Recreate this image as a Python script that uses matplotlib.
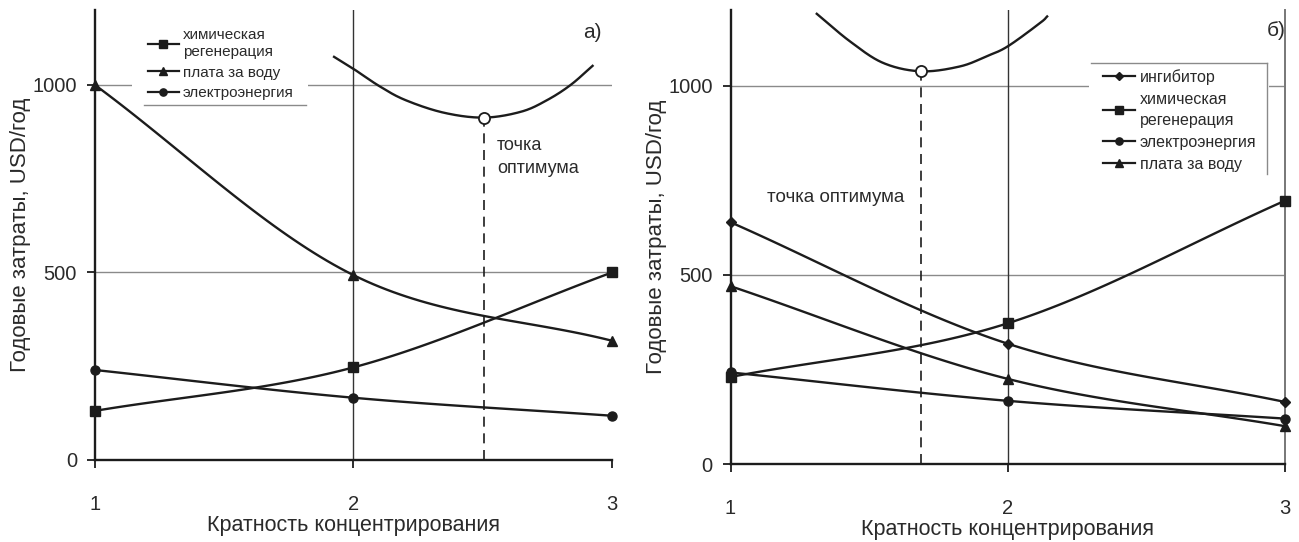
#!/usr/bin/env python3
"""Annual cost vs. concentration factor, two variants (a, б)."""

import matplotlib
matplotlib.use("Agg")
import matplotlib.pyplot as plt
import numpy as np
from matplotlib.lines import Line2D
from matplotlib.patches import Rectangle

plt.rcParams["font.family"] = ["Liberation Sans", "DejaVu Sans"]

INK = "#1c1c1c"
TXT = "#2a2a2a"
GRID = "#8a8a8a"

conc = [1, 2, 3]

# panel a)
a_chem = [131, 247, 500]
a_water = [1000, 493, 318]
a_power = [240, 166, 118]
a_total_x = [1.925, 2.0, 2.1, 2.2, 2.35, 2.505, 2.65, 2.75, 2.84, 2.925]
a_total_y = [1075, 1043, 997, 960, 926, 913, 929, 960, 1000, 1051]
a_opt = (2.505, 913)

# panel б)
b_inhib = [639, 318, 164]
b_chem = [230, 372, 696]
b_power = [242, 167, 120]
b_water = [470, 225, 100]
b_total_x = [1.311, 1.431, 1.551, 1.687, 1.828, 1.924, 2.0, 2.117, 2.142]
b_total_y = [1190, 1117, 1060, 1038, 1051, 1078, 1104, 1166, 1183]
b_opt = (1.687, 1038)

yticks = [0, 500, 1000]
ylabel = "Годовые затраты, USD/год"
xlabel = "Кратность концентрирования"


def smooth(x, y, n=40):
    # Catmull-Rom curve through the given points (Excel-like smoothed line)
    p = np.column_stack([x, y]).astype(float)
    p = np.vstack([2 * p[0] - p[1], p, 2 * p[-1] - p[-2]])
    t = np.linspace(0, 1, n)[:, None]
    out = []
    for i in range(1, len(p) - 2):
        p0, p1, p2, p3 = p[i - 1], p[i], p[i + 1], p[i + 2]
        seg = 0.5 * (2 * p1 + (-p0 + p2) * t
                     + (2 * p0 - 5 * p1 + 4 * p2 - p3) * t ** 2
                     + (-p0 + 3 * p1 - 3 * p2 + p3) * t ** 3)
        out.append(seg if i == 1 else seg[1:])
    pts = np.vstack(out)
    return pts[:, 0], pts[:, 1]


def series(ax, y, marker, ms, label):
    xs, ys = smooth(conc, y)
    ax.plot(xs, ys, color=INK, lw=1.7, zorder=4, clip_on=False)
    ax.plot(conc, y, ls="none", marker=marker, ms=ms, color=INK,
            zorder=5, clip_on=False)
    return Line2D([], [], color=INK, lw=1.6, marker=marker, ms=ms * 0.8, label=label)


def setup(ax):
    ax.set_xlim(1, 3)
    ax.set_ylim(0, 1200)
    ax.set_xticks(conc)
    ax.set_yticks(yticks)
    for s in ("top", "right"):
        ax.spines[s].set_visible(False)
    for s in ("left", "bottom"):
        ax.spines[s].set_linewidth(1.7)
        ax.spines[s].set_color(INK)
    ax.tick_params(direction="out", length=6, width=1.3, color=INK,
                   labelsize=14.5, labelcolor=TXT, pad=7)
    ax.tick_params(axis="x", pad=19)
    for v in (500, 1000):
        ax.axhline(v, color=GRID, lw=1.0, zorder=1)
    ax.axvline(2, color="#333333", lw=1.0, zorder=1)
    ax.set_xlabel(xlabel, fontsize=15.5, color=TXT, labelpad=1)
    ax.set_ylabel(ylabel, fontsize=16, color=TXT, labelpad=1)


def optimum(ax, tx, ty, total_x, total_y):
    xs, ys = smooth(total_x, total_y)
    ax.plot(xs, ys, color=INK, lw=1.7, zorder=4)
    ax.plot([tx, tx], [0, ty], color=INK, lw=1.2, ls=(0, (6, 4)), zorder=3)
    ax.plot([tx], [ty], marker="o", ms=8, mfc="white", mec=INK, mew=1.3,
            zorder=6)


def legend(ax, handles, anchor, size, linespacing):
    leg = ax.legend(handles=handles, loc="upper left", bbox_to_anchor=anchor,
                    fontsize=size, frameon=False, borderpad=0, handlelength=2.0,
                    handletextpad=0.3, labelspacing=0.42, borderaxespad=0)
    leg.set_zorder(7)
    for t in leg.get_texts():
        t.set_color(TXT)
        t.set_linespacing(linespacing)
    return leg


fig = plt.figure(figsize=(12.99, 5.42), dpi=100)
ax_a = fig.add_axes([0.0731, 0.1513, 0.398, 0.8303])
ax_b = fig.add_axes([0.5624, 0.1439, 0.4268, 0.8376])

# a)
setup(ax_a)
optimum(ax_a, *a_opt, a_total_x, a_total_y)
h_a = [
    series(ax_a, a_chem, "s", 7, "химическая\nрегенерация"),
    series(ax_a, a_water, "^", 7.5, "плата за воду"),
    series(ax_a, a_power, "o", 6.5, "электроэнергия"),
]
ax_a.add_patch(Rectangle((0.0716, 0.789), 0.34, 0.2, transform=ax_a.transAxes,
                         facecolor="white", edgecolor="none", zorder=2))
legend(ax_a, h_a, (0.1025, 0.961), 11, 1.35)
ax_a.add_line(Line2D([0.095, 0.408], [0.789, 0.789], transform=ax_a.transAxes,
                     color=GRID, lw=1.0, zorder=8))
ax_a.text(a_opt[0] + 0.05, 808, "точка\nоптимума", fontsize=13, color=TXT,
          va="center", ha="left", linespacing=1.5)
ax_a.text(2.89, 1140, "а)", fontsize=15, color=TXT, va="center")

# б)
setup(ax_b)
ax_b.axvline(3, color="#777777", lw=1.4, zorder=1, clip_on=False)
optimum(ax_b, *b_opt, b_total_x, b_total_y)
h_b = [
    series(ax_b, b_inhib, "D", 5.5, "ингибитор"),
    series(ax_b, b_chem, "s", 7, "химическая\nрегенерация"),
    series(ax_b, b_power, "o", 6.5, "электроэнергия"),
    series(ax_b, b_water, "^", 7.5, "плата за воду"),
]
ax_b.add_patch(Rectangle((0.647, 0.637), 0.324, 0.246, transform=ax_b.transAxes,
                         facecolor="white", edgecolor="none", zorder=2))
legend(ax_b, h_b, (0.672, 0.870), 11.5, 1.55)
ax_b.add_line(Line2D([0.650, 0.968], [0.883, 0.883], transform=ax_b.transAxes,
                     color=GRID, lw=1.0, zorder=8))
ax_b.add_line(Line2D([0.968, 0.968], [0.883, 0.639], transform=ax_b.transAxes,
                     color=GRID, lw=1.0, zorder=8))
ax_b.text(1.132, 704, "точка оптимума", fontsize=13.5, color=TXT,
          va="center", ha="left")
ax_b.text(2.935, 1145, "б)", fontsize=15, color=TXT, va="center")

fig.savefig("out.png", dpi=100)
